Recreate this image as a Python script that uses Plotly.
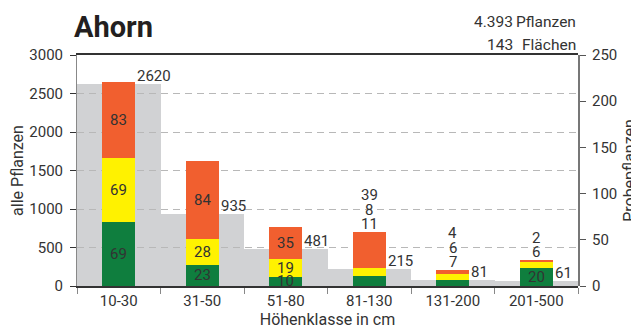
import plotly.graph_objects as go

# ---- data ----
categories = ["10-30", "31-50", "51-80", "81-130", "131-200", "201-500"]
alle_pflanzen = [2620, 935, 481, 215, 81, 61]
green_vals = [69, 23, 10, 11, 7, 20]
yellow_vals = [69, 28, 19, 8, 6, 6]
red_vals = [83, 84, 35, 39, 4, 2]
left_ticks = [0, 500, 1000, 1500, 2000, 2500, 3000]
right_ticks = [0, 50, 100, 150, 200, 250]
total_pflanzen = "4.393"
total_flaechen = "143"

# how many segments of each bar carry their label inside (rest stacked above)
inside_count = [3, 3, 3, 0, 0, 1]

FONT = "Roboto, DejaVu Sans Condensed, sans-serif"
TXT = "#333333"
GRAY = "#d1d2d4"
GREEN = "#0f7e3e"
YELLOW = "#fff200"
RED = "#f15f2f"
VSIZE = 15

# page has an 8px body margin: figure is sized/positioned to compensate
W, H = 631, 324
ML, MT, MR, MB = 69, 47, 61, 46
PW, PH = W - ML - MR, H - MT - MB

fig = go.Figure()

# subplot A: grey background bars (left scale)
fig.add_trace(go.Bar(x=categories, y=alle_pflanzen, width=1.0, marker_color=GRAY,
                     marker_line_width=0, xaxis="x", yaxis="y", hoverinfo="skip",
                     showlegend=False))

# subplot B: coloured stacked bars (right scale)
for vals, col in [(green_vals, GREEN), (yellow_vals, YELLOW), (red_vals, RED)]:
    fig.add_trace(go.Bar(x=categories, y=vals, width=0.4, marker_color=col,
                         marker_line_width=0, xaxis="x2", yaxis="y2",
                         hoverinfo="skip", showlegend=False))

# invisible trace so the overlay grid axis exists
fig.add_trace(go.Scatter(x=categories, y=alle_pflanzen, mode="lines",
                         line=dict(width=0), opacity=0, xaxis="x2", yaxis="y3",
                         hoverinfo="skip", showlegend=False))

annotations = []
# grey value labels
for i, v in enumerate(alle_pflanzen):
    annotations.append(dict(x=i + 0.2, y=v, xref="x", yref="y", text=str(v),
                            showarrow=False, xanchor="left", yanchor="bottom",
                            xshift=0, yshift=-3,
                            font=dict(family=FONT, size=VSIZE, color=TXT)))

# coloured segment labels
for i in range(len(categories)):
    segs = [green_vals[i], yellow_vals[i], red_vals[i]]
    total = sum(segs)
    base = 0
    k = 0
    for j, s in enumerate(segs):
        if j < inside_count[i]:
            annotations.append(dict(x=i, y=base + s / 2, xref="x2", yref="y2",
                                    text=str(s), showarrow=False, yanchor="middle",
                                    font=dict(family=FONT, size=VSIZE, color=TXT)))
        else:
            annotations.append(dict(x=i, y=total, xref="x2", yref="y2",
                                    text=str(s), showarrow=False, yanchor="middle",
                                    yshift=8 + 14.5 * k,
                                    font=dict(family=FONT, size=VSIZE, color=TXT)))
            k += 1
        base += s

# top-right totals
for txt_num, txt_word, yfig in [(total_pflanzen, "Pflanzen", 14), (total_flaechen, "Flächen", 37)]:
    yp = (H - MB - yfig) / PH
    annotations.append(dict(x=(507 - ML) / PW, y=yp, xref="paper", yref="paper",
                            text=txt_num, showarrow=False, xanchor="right", yanchor="middle",
                            font=dict(family=FONT, size=15.5, color=TXT)))
    annotations.append(dict(x=1, y=yp, xref="paper", yref="paper",
                            text=txt_word, showarrow=False, xanchor="right", yanchor="middle",
                            font=dict(family=FONT, size=15.5, color=TXT)))

fig.update_layout(
    width=W, height=H,
    margin=dict(l=ML, r=MR, t=MT, b=MB, autoexpand=False),
    paper_bgcolor="white",
    plot_bgcolor="rgba(0,0,0,0)",
    barmode="stack",
    bargap=0,
    font=dict(family=FONT, size=15, color=TXT),
    title=dict(text="<b>Ahorn</b>", xref="container", yref="container",
               x=66 / W, xanchor="left", y=1 - 19 / H, yanchor="middle",
               font=dict(family=FONT, size=29, color="#231f20")),
    annotations=annotations,
    xaxis=dict(domain=[0, 1], anchor="y", type="category", categoryorder="array",
               categoryarray=categories, range=[-0.5, len(categories) - 0.5],
               showgrid=False, ticks="outside", tickson="boundaries", ticklen=6,
               tickcolor="#888888", tickwidth=1,
               showline=True, linecolor="#333333", linewidth=2, mirror=True,
               tickfont=dict(family=FONT, size=15, color=TXT),
               title=dict(text="Höhenklasse in cm", standoff=4,
                          font=dict(family=FONT, size=16, color=TXT))),
    yaxis=dict(domain=[0, 1], anchor="x", range=[0, 3000], tickvals=left_ticks,
               showgrid=False, zeroline=False, ticks="outside", ticklen=6,
               tickcolor="#333333", tickwidth=1, ticklabelstandoff=4,
               showline=True, linecolor="#888888", linewidth=1,
               tickfont=dict(family=FONT, size=15, color=TXT),
               title=dict(text="alle Pflanzen", standoff=8,
                          font=dict(family=FONT, size=16, color=TXT))),
    xaxis2=dict(domain=[0, 1], anchor="y2", type="category", categoryorder="array",
                categoryarray=categories, range=[-0.5, len(categories) - 0.5],
                visible=False),
    yaxis2=dict(domain=[0, 1], anchor="x2", side="right", range=[0, 250],
                tickvals=right_ticks, showgrid=False, zeroline=False,
                ticks="outside", ticklen=6, tickcolor="#555555", tickwidth=1,
                ticklabelstandoff=3,
                showline=True, linecolor="#777777", linewidth=2,
                tickfont=dict(family=FONT, size=15, color=TXT),
                title=dict(text="Probepflanzen", standoff=8,
                           font=dict(family=FONT, size=16, color=TXT))),
    yaxis3=dict(overlaying="y2", anchor="x2", side="left", range=[0, 3000],
                tickvals=left_ticks, showgrid=True, gridcolor="#b8b8b8",
                gridwidth=1, griddash="7px,5px", zeroline=False,
                showticklabels=False, ticks="", showline=False),
)

fig.write_html("out.html")
